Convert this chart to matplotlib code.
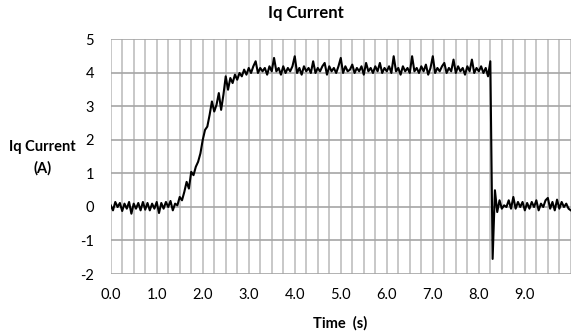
import numpy as np
import matplotlib
matplotlib.use("Agg")
import matplotlib.pyplot as plt

# sample interval of the logged current (s)
DT = 0.05

# Iq current (A), one row per second of the recording
iq_current = [
    0.05, -0.1, 0.15, 0.0, 0.12, -0.12, 0.1, -0.05, 0.15, -0.2, 0.1, -0.05, 0.12, -0.1, 0.15, -0.08, 0.12, -0.1, 0.1, -0.05,
    0.15, -0.18, 0.12, -0.05, 0.15, 0.0, 0.18, -0.1, 0.1, 0.05, 0.3, 0.2, 0.45, 0.75, 0.55, 1.05, 0.95, 1.2, 1.35, 1.6,
    2.0, 2.3, 2.4, 2.75, 3.15, 2.85, 3.05, 3.4, 2.9, 3.35, 3.9, 3.5, 3.85, 3.7, 3.95, 3.8, 4.0, 3.9, 4.1, 3.95,
    4.15, 4.0, 4.2, 4.35, 4.0, 4.15, 4.05, 4.15, 3.95, 4.2, 4.05, 4.45, 4.05, 4.15, 3.95, 4.2, 4.0, 4.15, 4.05, 4.2,
    4.5, 4.0, 4.15, 3.95, 4.2, 4.05, 4.15, 4.0, 4.35, 4.0, 4.15, 4.05, 4.2, 4.3, 3.95, 4.2, 4.05, 4.15, 4.0, 4.2,
    4.45, 4.0, 4.2, 4.05, 4.1, 4.25, 4.0, 4.15, 4.05, 4.2, 3.95, 4.3, 4.05, 4.15, 4.0, 4.2, 4.05, 4.3, 4.0, 4.15,
    4.05, 4.2, 4.0, 4.5, 4.05, 4.15, 3.95, 4.2, 4.05, 4.15, 4.0, 4.5, 4.05, 4.15, 4.0, 4.2, 4.05, 4.25, 3.95, 4.15,
    4.5, 4.0, 4.15, 4.05, 4.2, 4.3, 4.0, 4.15, 4.05, 4.4, 4.0, 4.2, 4.05, 4.15, 3.95, 4.2, 4.05, 4.4, 4.0, 4.15,
    4.05, 4.2, 4.0, 4.15, 3.9, 4.35, -1.55, 0.5, -0.15, 0.2, -0.05, 0.05, 0.0, 0.2, -0.05, 0.3, -0.05, 0.15, 0.0, 0.15,
    -0.1, 0.12, -0.05, 0.15, 0.0, 0.2, -0.1, 0.1, 0.0, 0.2, 0.27, -0.05, 0.15, -0.1, 0.22, -0.05, 0.15, 0.0, 0.1, -0.05,
    -0.1,
]
time_s = np.arange(len(iq_current)) * DT

x_ticks = [0, 1, 2, 3, 4, 5, 6, 7, 8, 9]
x_labels = ["0.0", "1.0", "2.0", "3.0", "4.0", "5.0", "6.0", "7.0", "8.0", "9.0"]
y_ticks = [-2, -1, 0, 1, 2, 3, 4, 5]

plt.rcParams['font.family'] = ['Lato', 'DejaVu Sans']
plt.rcParams['axes.unicode_minus'] = False

fig = plt.figure(figsize=(5.72, 3.31), dpi=100)
ax = fig.add_axes([0.1935, 0.1722, 0.8045, 0.7085])

# gridlines every 0.25 s, every 1 A
for gx in np.arange(0, 10.01, 0.25):
    ax.axvline(gx, color='#c8c8c8', lw=1.4, zorder=1)
for gy in y_ticks:
    ax.axhline(gy, color='#a6a6a6', lw=1.2, zorder=1)

ax.plot(time_s, iq_current, color='black', lw=1.5, zorder=3)

ax.set_xlim(0, 10)
ax.set_ylim(-2, 5)
ax.set_xticks(x_ticks)
ax.set_xticklabels(x_labels)
ax.set_yticks(y_ticks)
ax.tick_params(length=0, labelsize=10.5, pad=10)
ax.tick_params(axis='y', pad=12)
for s in ax.spines.values():
    s.set_visible(False)

fig.text(0.535, 0.962, "Iq Current", ha='center', va='center', fontsize=12, fontweight='bold')
fig.text(0.074, 0.523, "Iq Current\n(A)", ha='center', va='center', fontsize=10.5,
         fontweight='bold', linespacing=1.6)
fig.text(0.594, 0.024, "Time  (s)", ha='center', va='center', fontsize=10.5, fontweight='bold')

fig.savefig("out.png", dpi=100)
